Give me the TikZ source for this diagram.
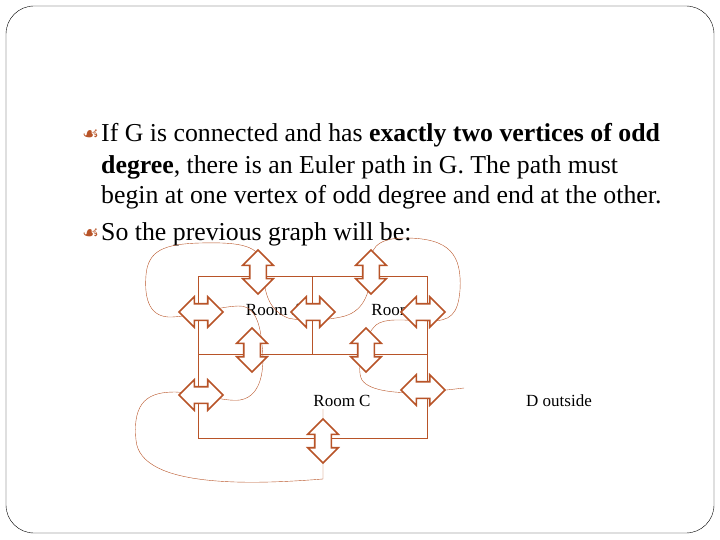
\documentclass[tikz,border=0pt]{standalone}
\usepackage{fontspec}
\setmainfont{Liberation Serif}
\newfontfamily\bulletfont{DejaVu Sans}
\usetikzlibrary{shapes.arrows}
\definecolor{rust}{RGB}{184,84,40}

\tikzset{
  door/.style={double arrow, draw=rust, line width=1.6pt, fill=white, inner sep=7.5pt,
    minimum height=44pt, double arrow head extend=7pt},
  wall/.style={draw=rust, thin},
  walk/.style={draw=rust, thin},
  lbl/.style={font=\fontsize{17}{20}\selectfont, inner sep=0pt},
  para/.style={anchor=west, inner sep=0pt, font=\fontsize{25.8}{30}\selectfont}
}
\newcommand{\bul}{{\bulletfont\color{rust}\fontsize{19}{19}\selectfont\char"2619}}

\begin{document}
\begin{tikzpicture}[x=1pt,y=-1pt]
    \useasboundingbox (0,0) rectangle (720,540);
    \draw[rounded corners=28pt] (6,6) rectangle (714,533);

    % text
    \node[anchor=west, inner sep=0pt] (bu1) at (82,135) {\bul};
    \node[para] (l1) at (101,135)
      {If G is connected and has \textbf{exactly two vertices of odd}};
    \node[para] (l2) at (101,167)
      {\textbf{degree}, there is an Euler path in G. The path must};
    \node[para] (l3) at (101,197)
      {begin at one vertex of odd degree and end at the other.};
    \node[anchor=west, inner sep=0pt] (bu2) at (82,234) {\bul};
    \node[para] (l4) at (101,234) {So the previous graph will be:};

    % floor plan
    \draw[wall] (198,276) rectangle (427,438);
    \draw[wall] (198,354) -- (427,354);
    \draw[wall] (312,276) -- (312,354);

    \node[lbl] (ra) at (275,310) {Room A};
    \node[lbl] (rb) at (400,310) {Room B};
    \node[lbl] (rc) at (342,401) {Room C};
    \node[lbl] (rd) at (559,401) {D outside};

    % the Euler path
    \draw[walk] (323,409) -- (323,479)
      .. controls (260,484) and (140,490) .. (136,440)
      .. controls (132,400) and (150,392) .. (175,392)
      .. controls (200,393) and (225,402) .. (240,400)
      .. controls (265,396) and (264,360) .. (262,345)
      .. controls (260,318) and (252,305) .. (238,306)
      .. controls (215,307) and (195,316) .. (172,317)
      .. controls (150,318) and (144,300) .. (146,275)
      .. controls (148,250) and (165,244) .. (200,243)
      .. controls (240,242) and (262,245) .. (263,268)
      .. controls (264,292) and (268,310) .. (288,318)
      .. controls (305,322) and (330,320) .. (345,316)
      .. controls (365,310) and (371,290) .. (370,270)
      .. controls (369,250) and (375,238) .. (405,238)
      .. controls (450,238) and (462,255) .. (460,290)
      .. controls (458,315) and (450,321) .. (430,321)
      .. controls (400,320) and (385,318) .. (376,325)
      .. controls (362,338) and (356,370) .. (362,380)
      .. controls (370,392) and (400,393) .. (420,393)
      -- (464,388);

    % doors
    \node[door, rotate=90] (d1) at (258,272) {};
    \node[door, rotate=90] (d2) at (371,272) {};
    \node[door] (d3) at (201,312) {};
    \node[door] (d4) at (313,312) {};
    \node[door] (d5) at (423,312) {};
    \node[door, rotate=90] (d6) at (252,350) {};
    \node[door, rotate=90] (d7) at (366,350) {};
    \node[door] (d8) at (201,395) {};
    \node[door] (d9) at (423,390) {};
    \node[door, rotate=90] (d10) at (323,441) {};
\end{tikzpicture}
\end{document}
